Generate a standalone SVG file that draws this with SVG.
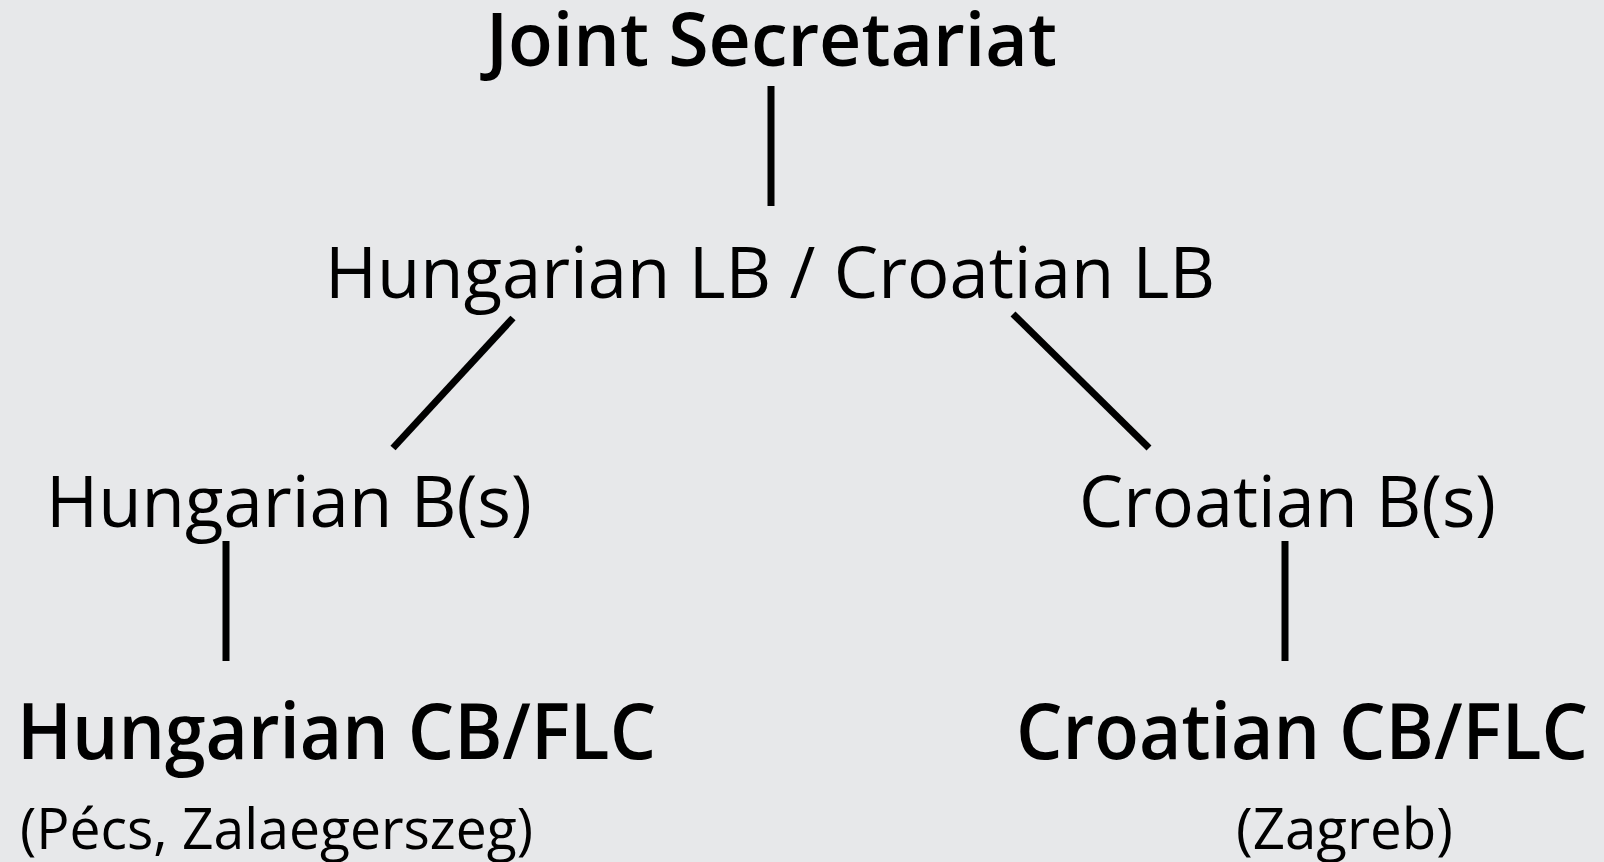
<svg xmlns="http://www.w3.org/2000/svg" width="1604" height="862" viewBox="0 0 1604 862">
<style>
text{font-family:"Open Sans","Noto Sans","Liberation Sans",sans-serif;fill:#000}
.b{font-weight:600}
.r{font-weight:normal}
.c line{stroke:#000;stroke-width:7;stroke-linecap:butt}
</style>
<rect width="1604" height="862" fill="#e7e8ea"/>
<g class="c" id="connectors">
<line x1="771" y1="86" x2="771" y2="206"/>
<line x1="513" y1="318" x2="393" y2="448"/>
<line x1="1013" y1="314" x2="1149" y2="448"/>
<line x1="226" y1="541" x2="226" y2="661"/>
<line x1="1285" y1="541" x2="1285" y2="661"/>
</g>
<g id="js"><text class="b" x="486" y="66" font-size="75" textLength="571" lengthAdjust="spacingAndGlyphs">Joint Secretariat</text></g>
<g id="lb"><text class="r" x="325" y="298" font-size="71" textLength="890" lengthAdjust="spacingAndGlyphs">Hungarian LB / Croatian LB</text></g>
<g id="hb"><text class="r" x="46" y="527" font-size="71" textLength="486" lengthAdjust="spacingAndGlyphs">Hungarian B(s)</text></g>
<g id="cb"><text class="r" x="1079" y="527" font-size="71" textLength="417" lengthAdjust="spacingAndGlyphs">Croatian B(s)</text></g>
<g id="hcb">
<text class="b" x="17" y="759" font-size="77" textLength="639" lengthAdjust="spacingAndGlyphs">Hungarian CB/FLC</text>
<text class="r" x="20" y="849" font-size="56" textLength="513" lengthAdjust="spacingAndGlyphs">(Pécs, Zalaegerszeg)</text>
</g>
<g id="ccb">
<text class="b" x="1016" y="759" font-size="77" textLength="572" lengthAdjust="spacingAndGlyphs">Croatian CB/FLC</text>
<text class="r" x="1236" y="849" font-size="56" textLength="217" lengthAdjust="spacingAndGlyphs">(Zagreb)</text>
</g>
</svg>
